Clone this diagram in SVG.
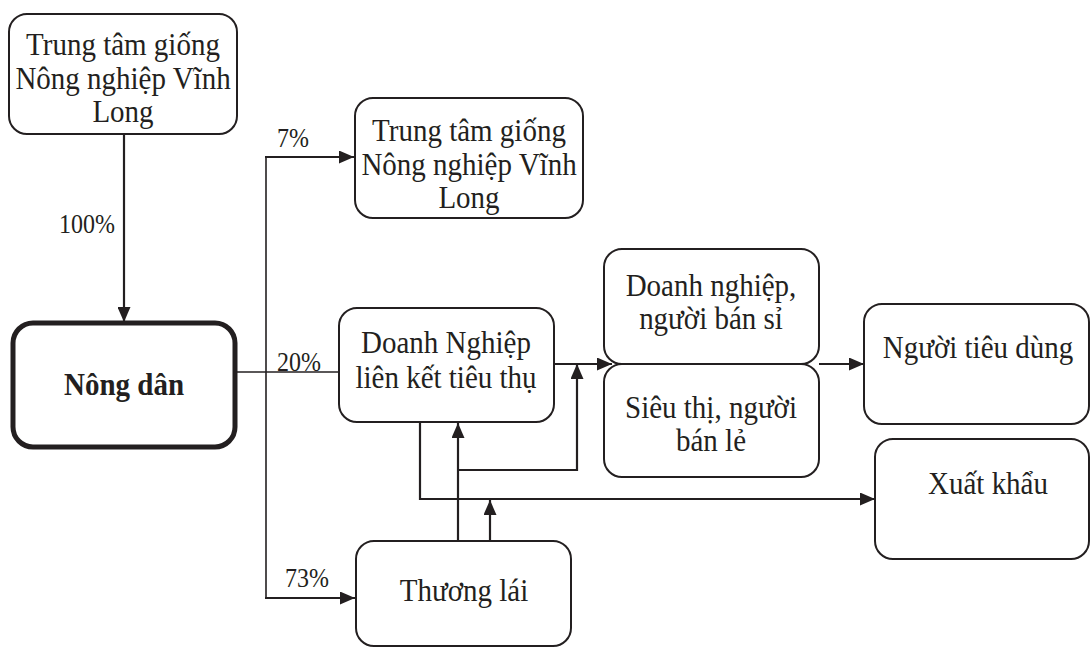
<svg xmlns="http://www.w3.org/2000/svg" width="1091" height="649" viewBox="0 0 1091 649">
<style>
.box{fill:#fff;stroke:#231f20;stroke-width:2}
.bold{fill:#fff;stroke:#231f20;stroke-width:5}
text{font-family:"Liberation Serif","Times New Roman",serif;font-size:29px;fill:#231f20;text-anchor:middle}
.lbl{font-size:24px;text-anchor:start}
.c{fill:none;stroke:#231f20;stroke-width:2.2}
</style>
<defs>
<marker id="ah" markerWidth="15" markerHeight="13" refX="15" refY="6.5" orient="auto" markerUnits="userSpaceOnUse" viewBox="0 0 15 13">
<path d="M0,0 L15,6.5 L0,13 z" fill="#231f20"/>
</marker>
</defs>
<rect width="1091" height="649" fill="#fff"/>
<g id="connectors">
<path class="c" d="M124,134 V322" marker-end="url(#ah)"/>
<path class="c" style="stroke-width:1.6" d="M266,157 V598"/>
<path class="c" d="M265,157 H354" marker-end="url(#ah)"/>
<path class="c" d="M265,598 H355" marker-end="url(#ah)"/>
<path class="c" style="stroke-width:1.3" d="M235,372 H338"/>
<path class="c" d="M554,364 H612" marker-end="url(#ah)"/>
<path class="c" d="M819,364 H864" marker-end="url(#ah)"/>
<path class="c" d="M458,541 V423" marker-end="url(#ah)"/>
<path class="c" d="M458,470 H577 V364" marker-end="url(#ah)"/>
<path class="c" d="M420,422 V499 H875" marker-end="url(#ah)"/>
<path class="c" d="M490,541 V500" marker-end="url(#ah)"/>
<text class="lbl" transform="matrix(1 0 0 1.1 59 233)">100%</text>
<text class="lbl" transform="matrix(1 0 0 1.1 277 147)">7%</text>
<text class="lbl" transform="matrix(1 0 0 1.1 277 371)">20%</text>
<text class="lbl" transform="matrix(1 0 0 1.1 285 587)">73%</text>
</g>
<g id="n1">
<rect class="box" x="9" y="14" width="228" height="120" rx="18"/>
<text transform="matrix(1 0 0 1.1 123 55)">Trung tâm giống</text>
<text transform="matrix(1 0 0 1.1 123 89)">Nông nghiệp Vĩnh</text>
<text transform="matrix(1 0 0 1.1 123 122)">Long</text>
</g>
<g id="n2">
<rect class="box" x="355" y="98" width="228" height="120" rx="18"/>
<text transform="matrix(1 0 0 1.1 469 141)">Trung tâm giống</text>
<text transform="matrix(1 0 0 1.1 469 175)">Nông nghiệp Vĩnh</text>
<text transform="matrix(1 0 0 1.1 469 208)">Long</text>
</g>
<g id="nongdan">
<rect class="bold" x="13" y="323" width="222" height="124" rx="20"/>
<text transform="matrix(1 0 0 1.1 124 395)" style="font-weight:bold">Nông dân</text>
</g>
<g id="dn">
<rect class="box" x="339" y="308" width="215" height="114" rx="18"/>
<text transform="matrix(1 0 0 1.1 446 353)">Doanh Nghiệp</text>
<text transform="matrix(1 0 0 1.1 446 388)">liên kết tiêu thụ</text>
</g>
<g id="si">
<rect class="box" x="604" y="249" width="215" height="115" rx="18"/>
<text transform="matrix(1 0 0 1.1 711 296)">Doanh nghiệp,</text>
<text transform="matrix(1 0 0 1.1 711 329)">người bán sỉ</text>
</g>
<g id="le">
<rect class="box" x="604" y="364" width="215" height="113" rx="18"/>
<text transform="matrix(1 0 0 1.1 711 418)">Siêu thị, người</text>
<text transform="matrix(1 0 0 1.1 711 451)">bán lẻ</text>
</g>
<g id="ntd">
<rect class="box" x="864" y="304" width="225" height="120" rx="18"/>
<text transform="matrix(1 0 0 1.1 978 358)">Người tiêu dùng</text>
</g>
<g id="xk">
<rect class="box" x="875" y="439" width="214" height="120" rx="18"/>
<text transform="matrix(1 0 0 1.1 988 494)">Xuất khẩu</text>
</g>
<g id="tl">
<rect class="box" x="356" y="541" width="215" height="105" rx="18"/>
<text transform="matrix(1 0 0 1.1 464 601)">Thương lái</text>
</g>
</svg>
